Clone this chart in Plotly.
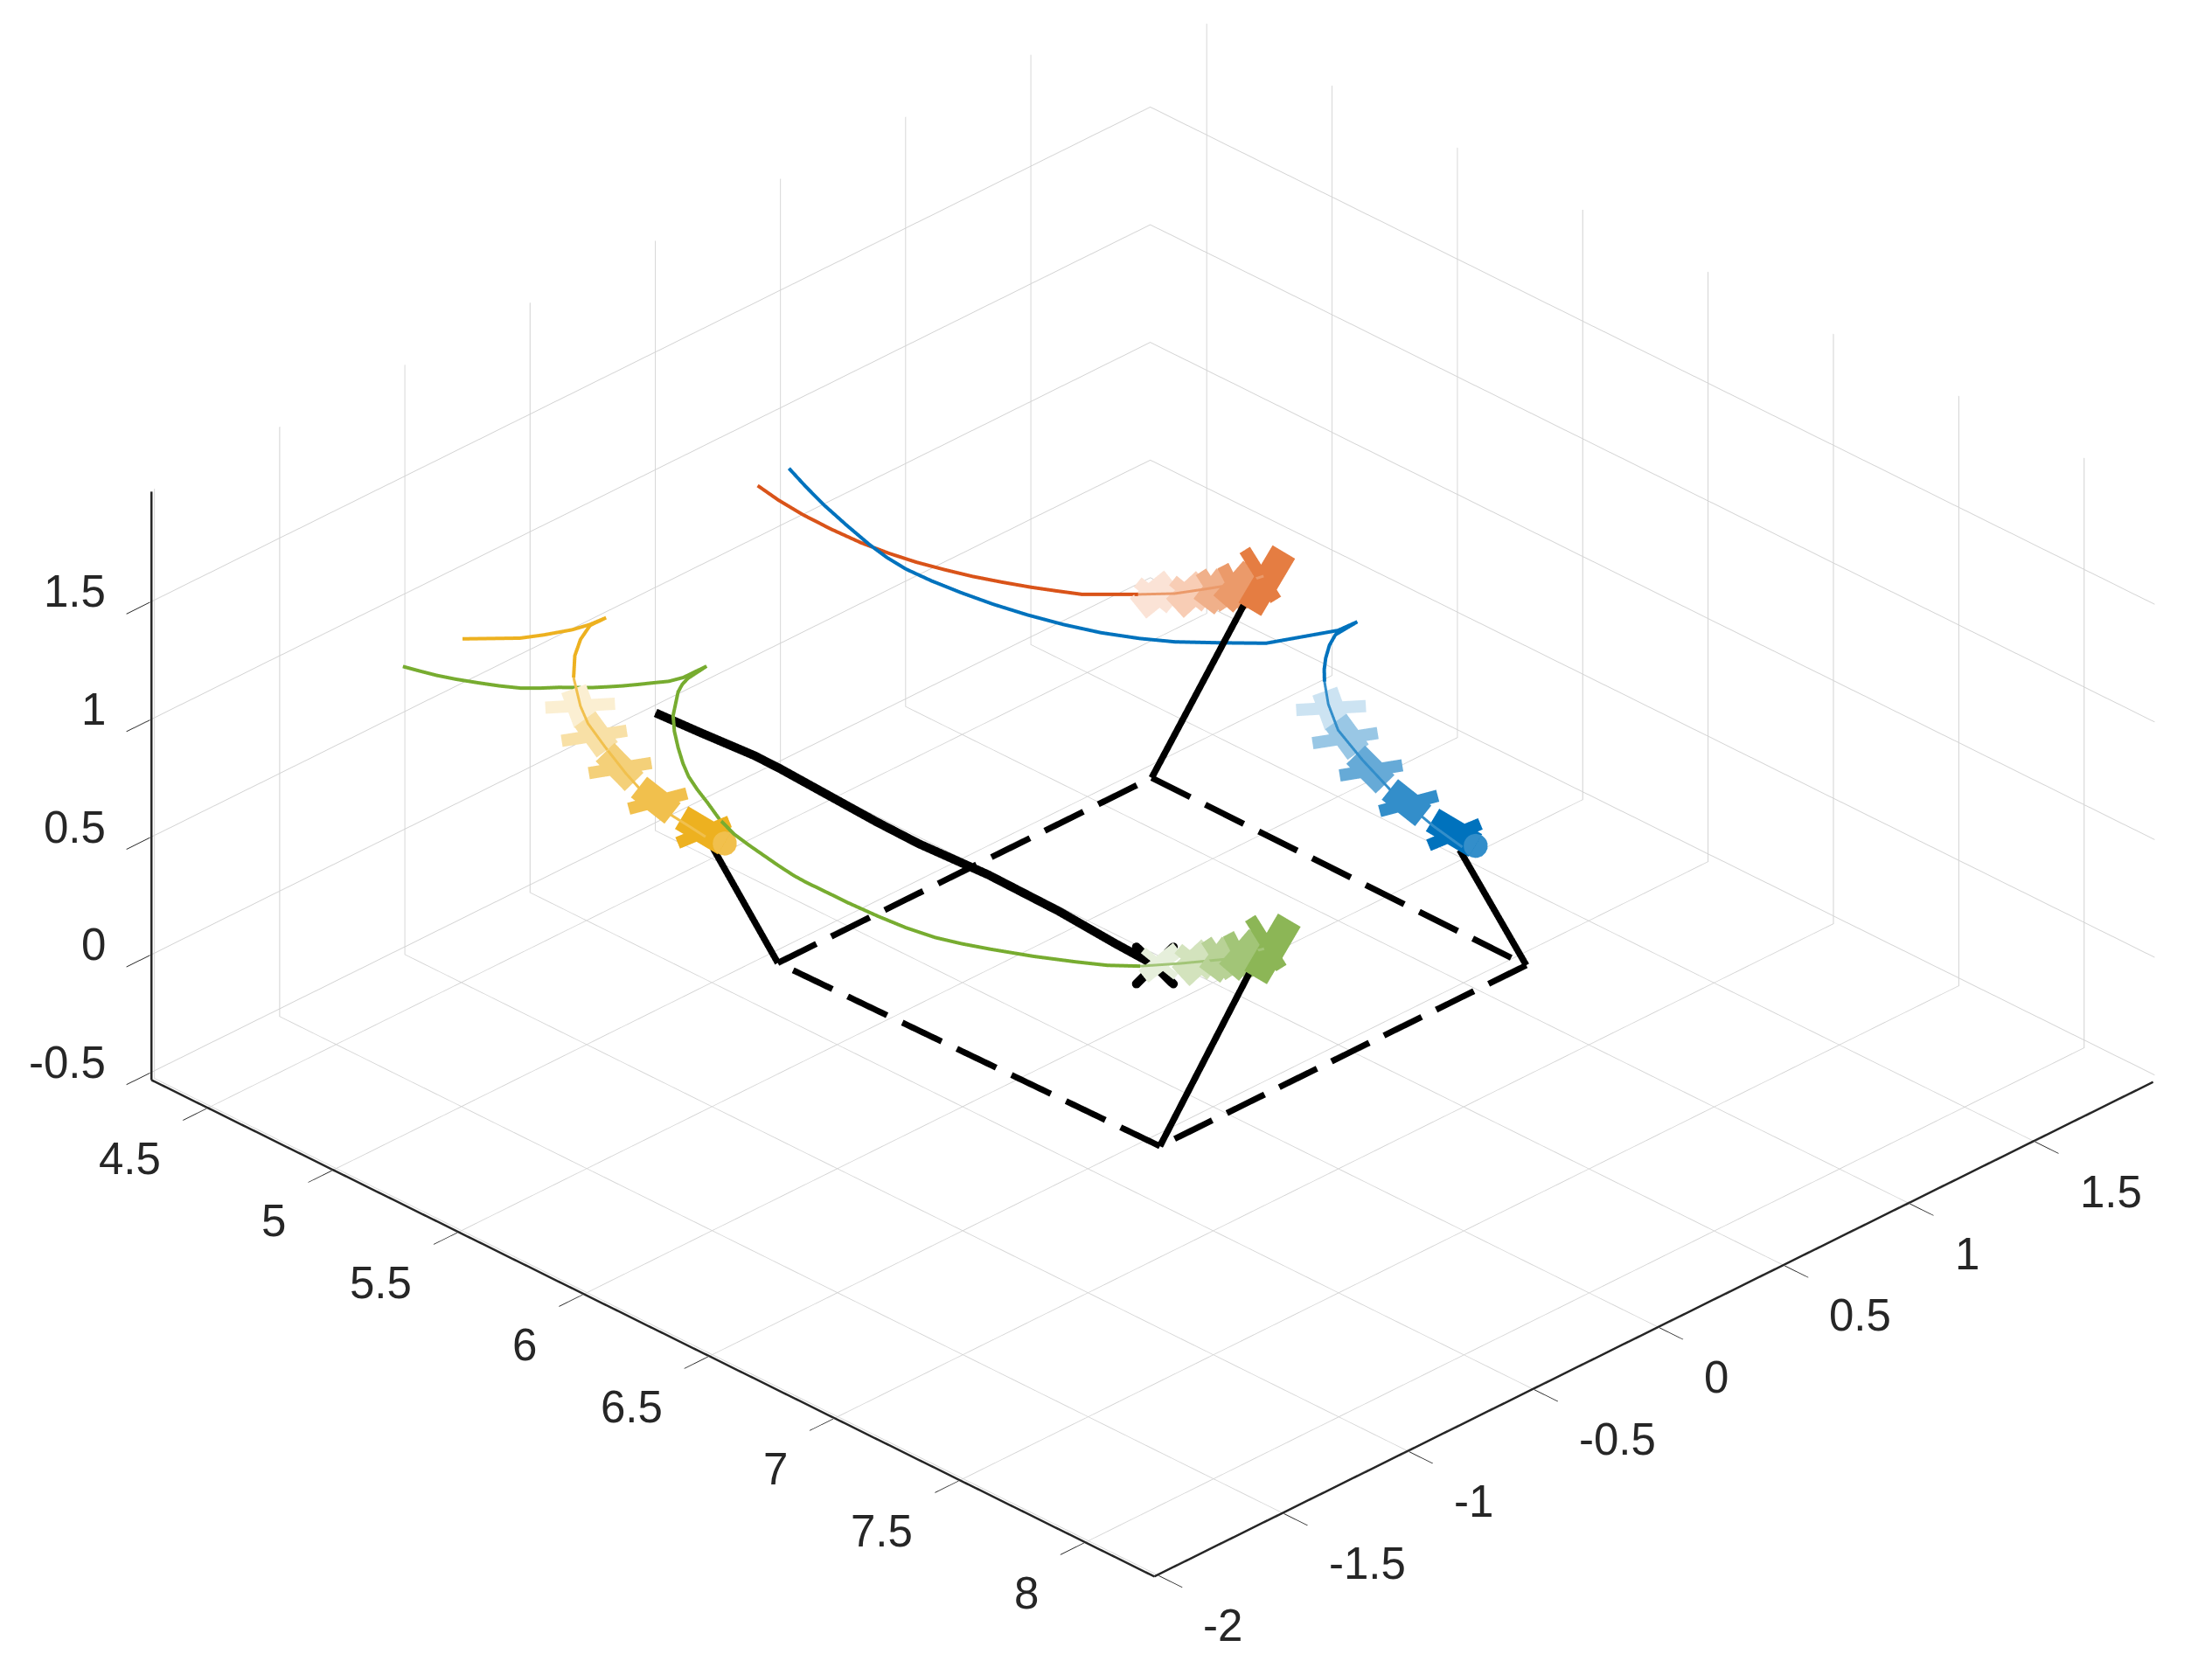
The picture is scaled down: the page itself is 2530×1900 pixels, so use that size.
import plotly.graph_objects as go

# axis limits and ticks
x_range = [4.275, 8.281]
y_range = [-2.018, 1.977]
z_range = [-0.533, 1.973]
x_ticks = [4.5, 5, 5.5, 6, 6.5, 7, 7.5, 8]
y_ticks = [-2, -1.5, -1, -0.5, 0, 0.5, 1, 1.5]
z_ticks = [-0.5, 0, 0.5, 1, 1.5]

# rotor paths
yellow_x = [4.401, 4.466, 4.532, 4.585, 4.64, 4.673, 4.697, 4.715, 4.771, 4.854, 4.968, 5.144, 5.324, 5.5, 5.694, 5.892, 6.044, 6.19, 6.299]
yellow_y = [-0.896, -0.847, -0.797, -0.756, -0.697, -0.66, -0.619, -0.701, -0.795, -0.901, -1.02, -1.169, -1.319, -1.427, -1.539, -1.656, -1.737, -1.787, -1.826]
yellow_z = [0.82, 0.83, 0.84, 0.86, 0.88, 0.9, 0.92, 0.94, 0.96, 0.99, 1.02, 1.07, 1.17, 1.22, 1.27, 1.34, 1.4, 1.44, 1.47]

blue_x = [4.318, 4.422, 4.536, 4.667, 4.794, 4.892, 4.985, 5.094, 5.21, 5.33, 5.451, 5.572, 5.688, 5.797, 5.89, 5.999, 6.097, 6.143, 6.208, 6.221, 6.239, 6.279, 6.333, 6.404, 6.482, 6.628, 6.847, 7.109, 7.361, 7.68, 7.85]
blue_y = [0.491, 0.452, 0.413, 0.372, 0.335, 0.308, 0.29, 0.284, 0.286, 0.294, 0.31, 0.334, 0.366, 0.41, 0.457, 0.539, 0.615, 0.683, 0.792, 0.855, 0.75, 0.686, 0.617, 0.54, 0.463, 0.332, 0.152, -0.014, -0.149, -0.301, -0.356]
blue_z = [0.77, 0.77, 0.77, 0.775, 0.78, 0.79, 0.8, 0.81, 0.82, 0.83, 0.84, 0.85, 0.86, 0.87, 0.88, 0.89, 0.9, 0.91, 0.92, 0.93, 0.94, 0.95, 0.96, 0.99, 1.02, 1.07, 1.17, 1.27, 1.34, 1.44, 1.47]

orange_x = [4.325, 4.425, 4.531, 4.648, 4.762, 4.859, 4.95, 5.04, 5.128, 5.219, 5.307, 5.383, 5.458, 5.631, 5.806, 5.971, 6.108, 6.252, 6.362]
orange_y = [0.359, 0.342, 0.332, 0.33, 0.335, 0.348, 0.367, 0.388, 0.412, 0.438, 0.466, 0.493, 0.521, 0.457, 0.395, 0.377, 0.36, 0.362, 0.34]
orange_z = [0.77, 0.77, 0.77, 0.77, 0.77, 0.77, 0.77, 0.775, 0.78, 0.79, 0.8, 0.81, 0.82, 0.945, 1.07, 1.17, 1.27, 1.37, 1.47]

green_x = [4.346, 4.397, 4.45, 4.504, 4.559, 4.616, 4.668, 4.707, 4.741, 4.777, 4.811, 4.837, 4.862, 4.888, 4.913, 4.936, 4.959, 4.979, 5.057, 5.117, 5.187, 5.272, 5.338, 5.412, 5.551, 5.69, 5.854, 6.021, 6.211, 6.394, 6.324, 6.25, 6.182, 6.11, 6.107, 6.102, 6.206, 6.31, 6.402, 6.489, 6.559, 6.629, 6.733, 6.829, 7.078, 7.308, 7.472, 7.638, 7.864]
green_y = [-1.079, -1.064, -1.047, -1.024, -0.996, -0.965, -0.931, -0.892, -0.852, -0.817, -0.783, -0.751, -0.719, -0.681, -0.642, -0.608, -0.573, -0.5, -0.652, -0.735, -0.822, -0.927, -0.988, -1.047, -1.167, -1.284, -1.414, -1.541, -1.681, -1.806, -1.678, -1.547, -1.417, -1.284, -1.23, -1.172, -1.162, -1.147, -1.128, -1.1, -1.062, -1.017, -0.951, -0.88, -1.001, -1.1, -1.104, -1.094, -1.162]
green_z = [0.77, 0.77, 0.77, 0.77, 0.77, 0.77, 0.77, 0.77, 0.77, 0.77, 0.77, 0.77, 0.77, 0.77, 0.77, 0.77, 0.78, 0.8, 0.87, 0.92, 0.97, 0.97, 0.97, 0.97, 1.04, 1.12, 1.22, 1.32, 1.42, 1.52, 1.37, 1.22, 1.07, 0.92, 0.86, 0.8, 0.79, 0.78, 0.77, 0.76, 0.75, 0.74, 0.73, 0.72, 0.9, 1.07, 1.17, 1.27, 1.47]

# load path
load_x = [5.179, 5.306, 5.452, 5.51, 5.618, 5.725, 5.804, 5.926, 6.118, 6.268, 6.337]
load_y = [-0.904, -0.846, -0.784, -0.738, -0.654, -0.57, -0.479, -0.323, -0.234, -0.157, -0.07]
load_z = [0.92, 0.87, 0.82, 0.77, 0.67, 0.57, 0.47, 0.32, 0.22, 0.12, 0.02]

# load outline at the end of the motion
square_x = [5.577, 5.577, 7.079, 7.077, 5.577]
square_y = [-0.814, 0.679, 0.671, -0.79, -0.814]
square_z = [0.02, 0.02, 0.02, 0.02, 0.02]

# cables: square corner to rotor, same order as the square
cable_end_x = [6.194, 6.344, 7.761, 7.838]
cable_end_y = [-1.722, 0.279, -0.278, -1.195]
cable_end_z = [1.37, 1.37, 1.37, 1.37]

# rotor frames, five snapshots each, height shared per snapshot
frame_z = [1.02, 1.12, 1.22, 1.32, 1.42]

yellow_a_x = [[5.033, 5.156], [5.294, 5.383], [5.573, 5.657], [5.891, 5.945], [6.221, 6.238]]
yellow_a_y = [[-1.198, -1.043], [-1.394, -1.223], [-1.565, -1.399], [-1.724, -1.546], [-1.859, -1.669]]
yellow_b_x = [[5.013, 5.179], [5.253, 5.421], [5.521, 5.699], [5.824, 5.997], [6.127, 6.315]]
yellow_b_y = [[-1.065, -1.18], [-1.26, -1.339], [-1.448, -1.51], [-1.616, -1.655], [-1.749, -1.766]]

blue_a_x = [[6.54, 6.663], [6.801, 6.89], [7.08, 7.164], [7.398, 7.452], [7.728, 7.745]]
blue_a_y = [[0.292, 0.447], [0.096, 0.267], [-0.075, 0.091], [-0.234, -0.056], [-0.369, -0.179]]
blue_b_x = [[6.521, 6.687], [6.76, 6.928], [7.028, 7.206], [7.331, 7.504], [7.634, 7.822]]
blue_b_y = [[0.425, 0.309], [0.23, 0.151], [0.041, -0.02], [-0.126, -0.166], [-0.259, -0.276]]

green_a_x = [[7.203, 7.374], [7.361, 7.532], [7.477, 7.673], [7.591, 7.812], [7.666, 7.929]]
green_a_y = [[-0.983, -1.024], [-1.001, -1.042], [-1.005, -1.105], [-1.031, -1.163], [-1.019, -1.158]]
green_b_x = [[7.267, 7.309], [7.426, 7.478], [7.547, 7.624], [7.667, 7.747], [7.752, 7.916]]
green_b_y = [[-0.908, -1.088], [-0.938, -1.109], [-0.971, -1.139], [-0.985, -1.185], [-0.949, -1.248]]

orange_a_x = [[5.709, 5.88], [5.867, 6.038], [5.983, 6.178], [6.097, 6.317], [6.172, 6.435]]
orange_a_y = [[0.491, 0.45], [0.473, 0.432], [0.469, 0.369], [0.443, 0.311], [0.455, 0.316]]
orange_b_x = [[5.772, 5.815], [5.932, 5.983], [6.053, 6.129], [6.172, 6.252], [6.258, 6.421]]
orange_b_y = [[0.566, 0.386], [0.536, 0.365], [0.503, 0.335], [0.489, 0.289], [0.525, 0.226]]

# end-of-arm discs
disc_x = [6.315, 7.822]
disc_y = [-1.766, -0.276]
disc_z = [1.42, 1.42]

FONT = "Liberation Sans"
TEXT = "#262626"
BLUE = ["#CCE3F2", "#99C7E5", "#66AAD7", "#338ECA", "#0072BD"]
ORANGE = ["#FBE3D6", "#F8CDB5", "#F0B08A", "#EB9A6A", "#E57D42"]
YELLOW = ["#FBEFD2", "#F8E0A6", "#F4D079", "#F1C04D", "#EDB120"]
GREEN = ["#E6EFDB", "#D3E3BD", "#B8D296", "#A2C577", "#8CB656"]


def line3d(x, y, z, color, width):
    return go.Scatter3d(x=x, y=y, z=z, mode="lines", hoverinfo="skip",
                        line=dict(color=color, width=width))


def path(x, y, z, split, color, shade):
    # past the split the path runs through the frames, and shows only faintly there
    fig.add_trace(line3d(x[:split + 1], y[:split + 1], z[:split + 1], color, 8))
    fig.add_trace(line3d(x[split:], y[split:], z[split:], shade, 6))


def tick_label(x, y, z, value, anchor, xshift, yshift):
    return dict(x=x, y=y, z=z, text=f"{value:g}", showarrow=False, xanchor=anchor, yanchor="middle",
                xshift=xshift, yshift=yshift, font=dict(family=FONT, size=51, color=TEXT))


def dashed(xs, ys, dashes=7, fill=0.72):
    # line.dash on scatter3d has no usable period here, so break the sides up
    out_x, out_y = [], []
    for i in range(len(xs) - 1):
        for d in range(dashes):
            t0, t1 = d / dashes, (d + fill) / dashes
            out_x += [xs[i] + t0 * (xs[i + 1] - xs[i]), xs[i] + t1 * (xs[i + 1] - xs[i]), None]
            out_y += [ys[i] + t0 * (ys[i + 1] - ys[i]), ys[i] + t1 * (ys[i + 1] - ys[i]), None]
    return out_x, out_y


fig = go.Figure()

# frames first, arm b is the wide one
for a_x, a_y, b_x, b_y, shades in [
    (yellow_a_x, yellow_a_y, yellow_b_x, yellow_b_y, YELLOW),
    (blue_a_x, blue_a_y, blue_b_x, blue_b_y, BLUE),
    (green_a_x, green_a_y, green_b_x, green_b_y, GREEN),
    (orange_a_x, orange_a_y, orange_b_x, orange_b_y, ORANGE),
]:
    for i in range(5):
        h = [frame_z[i], frame_z[i]]
        # keep the first green frame slim, the end marker shows around it
        slim = 0.6 if shades is GREEN and i == 0 else 1
        fig.add_trace(line3d(b_x[i], b_y[i], h, shades[i], 60 * slim))
        fig.add_trace(line3d(a_x[i], a_y[i], h, shades[i], 28 * slim))

fig.add_trace(go.Scatter3d(x=disc_x, y=disc_y, z=disc_z, mode="markers", hoverinfo="skip",
                           marker=dict(color=[YELLOW[3], BLUE[3]], size=16, symbol="circle", line=dict(width=0))))

# paths
path(blue_x, blue_y, blue_z, 24, "#0072BD", BLUE[3])
path(orange_x, orange_y, orange_z, 14, "#D95319", ORANGE[3])
path(yellow_x, yellow_y, yellow_z, 10, "#EDB120", YELLOW[3])
path(green_x, green_y, green_z, 45, "#77AC30", GREEN[3])
fig.add_trace(line3d(load_x, load_y, load_z, "black", 20))
fig.add_trace(go.Scatter3d(x=load_x[-1:], y=load_y[-1:], z=load_z[-1:], mode="markers", hoverinfo="skip",
                           marker=dict(color="black", size=12, symbol="x")))

# outline and cables
dash_x, dash_y = dashed(square_x, square_y)
dash_z = [None if v is None else square_z[0] for v in dash_x]
fig.add_trace(line3d(dash_x, dash_y, dash_z, "black", 14))
for i in range(4):
    fig.add_trace(line3d([square_x[i], cable_end_x[i]], [square_y[i], cable_end_y[i]],
                         [square_z[i], cable_end_z[i]], "black", 15))

# axis rulers, a hair inside the box or they get clipped
inset = 0.003
x_lo, x_hi = x_range[0] + inset, x_range[1] - inset
y_lo, y_hi = y_range[0] + inset, y_range[1] - inset
z_lo, z_hi = z_range[0] + inset, z_range[1] - inset
fig.add_trace(line3d([x_lo, x_hi], [y_lo, y_lo], [z_lo, z_lo], TEXT, 5))
fig.add_trace(line3d([x_hi, x_hi], [y_lo, y_hi], [z_lo, z_lo], TEXT, 5))
fig.add_trace(line3d([x_lo, x_lo], [y_lo, y_lo], [z_lo, z_hi], TEXT, 5))

labels = [tick_label(v, y_range[0], z_range[0], v, "right", -50, -57) for v in x_ticks]
labels += [tick_label(x_range[1], v, z_range[0], v, "left", 49, -57) for v in y_ticks]
labels += [tick_label(x_range[0], y_range[0], v, v, "right", -49, 12) for v in z_ticks]

axis_style = dict(
    showbackground=False, showgrid=True, gridcolor="#d2d2d2", gridwidth=2, zeroline=False,
    showline=False, ticks="outside", tickcolor=TEXT, tickwidth=2, ticklen=38,
    showticklabels=False, title="", showspikes=False,
)
k = 1.5
zoom = 1.71  # orthographic scale follows the aspect ratio, not the eye distance
center = dict(x=-0.0121, y=-0.0548, z=-0.053)
fig.update_layout(
    width=2530, height=1900, margin=dict(l=0, r=0, t=0, b=0), showlegend=False,
    paper_bgcolor="white",
    scene=dict(
        xaxis=dict(axis_style, range=x_range, tickvals=x_ticks),
        yaxis=dict(axis_style, range=y_range, tickvals=y_ticks),
        zaxis=dict(axis_style, range=z_range, tickvals=z_ticks),
        annotations=labels,
        aspectmode="manual",
        aspectratio=dict(x=zoom, y=0.996 * zoom, z=0.478 * zoom),
        camera=dict(projection=dict(type="orthographic"), center=center,
                    eye=dict(x=k + center["x"], y=-k + center["y"], z=0.806 * k + center["z"]),
                    up=dict(x=0, y=0, z=1)),
    ),
)
fig.write_html("out.html")
